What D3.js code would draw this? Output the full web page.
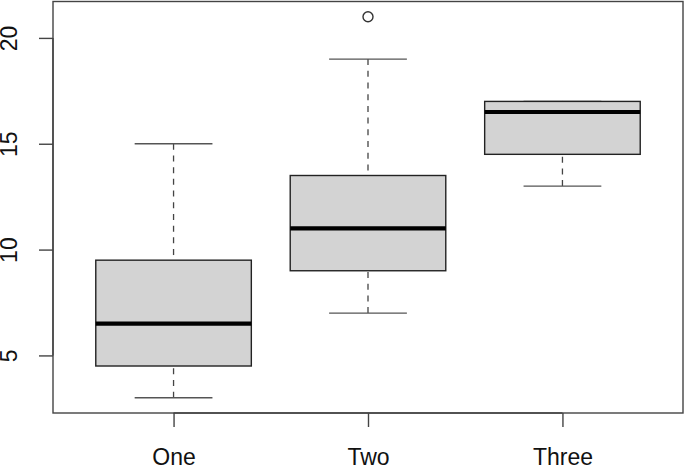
<!DOCTYPE html>
<html>
<head>
<meta charset="utf-8">
<script src="https://cdn.jsdelivr.net/npm/d3@7"></script>
<style>
  body { margin: 0; background: #fff; }
  svg text { font-family: "Liberation Sans", Arial, sans-serif; fill: #111; }
</style>
</head>
<body>
<div id="chart"></div>
<script>
// boxplot stats
var categories = ["One", "Two", "Three"];
var whiskerLow = [3, 7, 13];
var q1 = [4.5, 9, 14.5];
var median = [6.5, 11, 16.5];
var q3 = [9.5, 13.5, 17];
var whiskerHigh = [15, 19, 17];
var outliers = [[], [21], []];
var yTicks = [5, 10, 15, 20];

var width = 685, height = 467;
var svg = d3.select("#chart").append("svg")
  .attr("width", width).attr("height", height);

// R style limits: data range extended by 4%
var x = d3.scaleLinear().domain([0.38, 3.62]).range([53, 683]);
var y = d3.scaleLinear().domain([2.28, 21.72]).range([413, 1.5]);

var boxes = categories.map(function (c, i) {
  return { name: c, pos: i + 1, lo: whiskerLow[i], q1: q1[i], med: median[i], q3: q3[i], hi: whiskerHigh[i], out: outliers[i] };
});

var g = svg.append("g");

var b = g.selectAll("g.box").data(boxes).enter().append("g").attr("class", "box");

// whiskers (dashed), drawn from the staple toward the box
b.append("line")
  .attr("x1", function (d) { return x(d.pos); }).attr("x2", function (d) { return x(d.pos); })
  .attr("y1", function (d) { return y(d.hi); }).attr("y2", function (d) { return y(d.q3); })
  .attr("stroke", "#444").attr("stroke-width", 1.3).attr("stroke-dasharray", "6,5.7");
b.append("line")
  .attr("x1", function (d) { return x(d.pos); }).attr("x2", function (d) { return x(d.pos); })
  .attr("y1", function (d) { return y(d.lo); }).attr("y2", function (d) { return y(d.q1); })
  .attr("stroke", "#444").attr("stroke-width", 1.3).attr("stroke-dasharray", "6,5.7");

// staples
[["hi"], ["lo"]].forEach(function (k) {
  b.append("line")
    .attr("x1", function (d) { return x(d.pos - 0.2); }).attr("x2", function (d) { return x(d.pos + 0.2); })
    .attr("y1", function (d) { return y(d[k[0]]); }).attr("y2", function (d) { return y(d[k[0]]); })
    .attr("stroke", "#555").attr("stroke-width", 1.3);
});

// box
b.append("rect")
  .attr("x", function (d) { return x(d.pos - 0.4); })
  .attr("width", function (d) { return x(d.pos + 0.4) - x(d.pos - 0.4); })
  .attr("y", function (d) { return y(d.q3); })
  .attr("height", function (d) { return y(d.q1) - y(d.q3); })
  .attr("fill", "#d3d3d3").attr("stroke", "#222").attr("stroke-width", 1.4);

// median
b.append("line")
  .attr("x1", function (d) { return x(d.pos - 0.4); }).attr("x2", function (d) { return x(d.pos + 0.4); })
  .attr("y1", function (d) { return y(d.med); }).attr("y2", function (d) { return y(d.med); })
  .attr("stroke", "#000").attr("stroke-width", 4.2);

// outliers
b.selectAll("circle").data(function (d) { return d.out.map(function (v) { return { pos: d.pos, v: v }; }); })
  .enter().append("circle")
  .attr("cx", function (d) { return x(d.pos); }).attr("cy", function (d) { return y(d.v); })
  .attr("r", 5).attr("fill", "none").attr("stroke", "#333").attr("stroke-width", 1.4);

// frame
svg.append("rect")
  .attr("x", 53).attr("y", 1.5).attr("width", 630).attr("height", 411.5)
  .attr("fill", "none").attr("stroke", "#444").attr("stroke-width", 1.4);

// y axis
var yAxis = svg.append("g").attr("transform", "translate(53,0)")
  .call(d3.axisLeft(y).tickValues(yTicks).tickSize(14).tickFormat(d3.format("d")));
yAxis.select(".domain").attr("d", "M0," + y(5) + "V" + y(20)).attr("stroke", "#444").attr("stroke-width", 1.4);
yAxis.selectAll(".tick line").attr("stroke", "#444").attr("stroke-width", 1.4);
yAxis.selectAll(".tick text")
  .attr("x", 0).attr("dy", null)
  .attr("transform", "translate(-36,0) rotate(-90)")
  .attr("text-anchor", "middle")
  .style("font-size", "23px");

// x axis
var xAxis = svg.append("g").attr("transform", "translate(0,413)")
  .call(d3.axisBottom(x).tickValues([1, 2, 3]).tickSize(14)
    .tickFormat(function (d) { return categories[d - 1]; }));
xAxis.select(".domain").attr("d", "M" + x(1) + ",0H" + x(3)).attr("stroke", "#444").attr("stroke-width", 1.4);
xAxis.selectAll(".tick line").attr("stroke", "#444").attr("stroke-width", 1.4);
xAxis.selectAll(".tick text").attr("y", 52).attr("dy", null).style("font-size", "23px");
</script>
</body>
</html>
